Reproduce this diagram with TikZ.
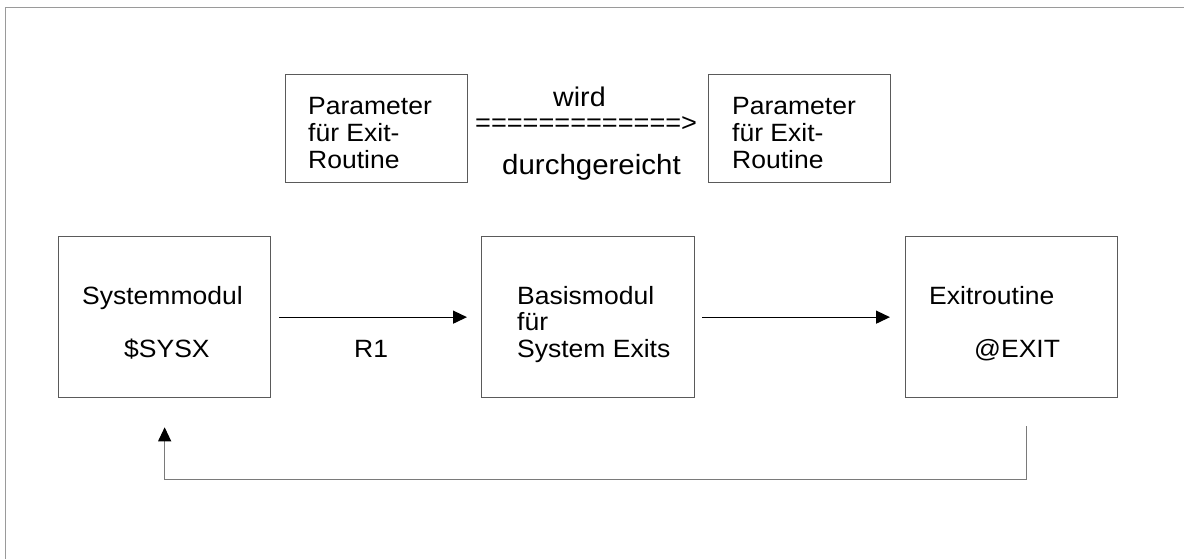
\documentclass[tikz,border=0pt]{standalone}
\usepackage{fontspec}
\setmainfont{Liberation Sans}[FakeStretch=1.06]
\usetikzlibrary{arrows.meta}
\definecolor{boxgray}{HTML}{5A5A5A}
\definecolor{framegray}{HTML}{9A9A9A}
\definecolor{retgray}{HTML}{7A7A7A}
\begin{document}
\begin{tikzpicture}[x=1pt,y=-1pt,
  modbox/.style={draw=boxgray, line width=1.3pt, anchor=north west, inner sep=0pt, minimum width=#1, minimum height=161pt},
  parbox/.style={draw=boxgray, line width=1.3pt, anchor=north west, inner sep=0pt, minimum width=182pt, minimum height=108pt},
  lbl/.style={anchor=base west, inner sep=0pt, font=\fontsize{25}{30}\selectfont},
  midlbl/.style={anchor=base west, inner sep=0pt, font=\fontsize{#1}{32}\selectfont},
  arr/.style={draw=black, line width=1.3pt, -{Triangle[length=14pt,width=13pt]}},
  ret/.style={draw=retgray, line width=1.1pt, -{Triangle[length=14pt,width=13pt,color=black]}}
]
\useasboundingbox (0,0) rectangle (1184,559);
% outer frame (clipped at right and bottom)
\draw[framegray, line width=1.4pt] (5.5,570) -- (5.5,7.5) -- (1195,7.5);

% parameter boxes
\node[parbox] (p1) at (285,74) {};
\node[parbox] (p2) at (708,74) {};
\node[lbl] (p1a) at (308,115) {Parameter};
\node[lbl] (p1b) at (308,141.7) {für Exit-};
\node[lbl] (p1c) at (308,168.3) {Routine};
\node[lbl] (p2a) at (732,115) {Parameter};
\node[lbl] (p2b) at (732,141.7) {für Exit-};
\node[lbl] (p2c) at (732,168.3) {Routine};

% passing label
\node[midlbl=27] (wird) at (553,107) {wird};
\node[midlbl=25.6] (eqarrow) at (475,132) {=============>};
\node[midlbl=27.8] (durch) at (502,175) {durchgereicht};

% module boxes
\node[modbox=212pt] (sys) at (58,236) {};
\node[modbox=213pt] (basis) at (481,236) {};
\node[modbox=212pt] (exit) at (905,236) {};

\node[lbl] (sysa) at (82,304) {Systemmodul};
\node[lbl] (sysb) at (124,357) {\$SYSX};
\node[lbl] (basa) at (517,304) {Basismodul};
\node[lbl] (basb) at (517,330.5) {für};
\node[lbl] (basc) at (517,357) {System Exits};
\node[lbl] (exa) at (929,304) {Exitroutine};
\node[lbl] (exb) at (974,357) {@EXIT};
\node[lbl] (r1) at (354,357) {R1};

% connectors
\draw[arr] ([xshift=8pt]sys.east) -- ([xshift=-14pt]basis.west);
\draw[arr] ([xshift=7pt]basis.east) -- ([xshift=-15pt]exit.west);
\coordinate (rs) at ([xshift=15pt,yshift=-28pt]exit.south);
\coordinate (re) at ([yshift=-29pt]sys.south);
\draw[ret] (rs) -- ++(0,53) -| (re);
\end{tikzpicture}
\end{document}
